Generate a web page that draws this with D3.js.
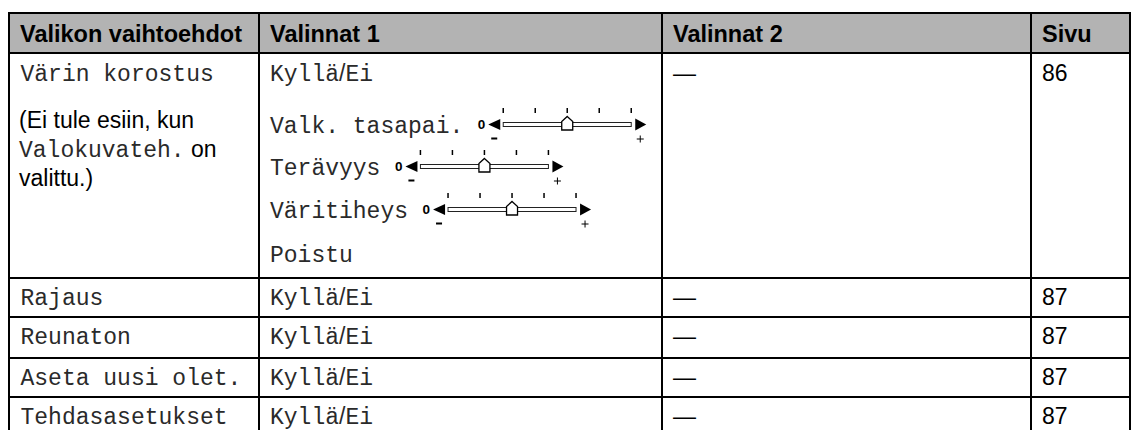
<!DOCTYPE html>
<html><head><meta charset="utf-8">
<script src="https://cdn.jsdelivr.net/npm/d3@7"></script>
<style>
body{margin:0;background:#fff}
.sans{font-family:"Liberation Sans",Arial,sans-serif}
.mono{font-family:"Liberation Mono","Courier New",monospace}
</style>
</head><body>
<svg id="c" width="1133" height="430"></svg>
<script>
// ---- data ----
const headers = ["Valikon vaihtoehdot", "Valinnat 1", "Valinnat 2", "Sivu"];
const menuOptions = ["Värin korostus", "Rajaus", "Reunaton", "Aseta uusi olet.", "Tehdasasetukset"];
const noteParts = [
  [["(Ei tule esiin, kun", "sans"]],
  [["Valokuvateh.", "mono"], [" on", "sans"]],
  [["valittu.)", "sans"]]
];
const choices1 = ["Kyllä/Ei", "Kyllä/Ei", "Kyllä/Ei", "Kyllä/Ei", "Kyllä/Ei"];
const firstRowItems = ["Kyllä/Ei", "Valk. tasapai.", "Terävyys", "Väritiheys", "Poistu"];
const sliderItems = ["Valk. tasapai.", "Terävyys", "Väritiheys"];
const sliderValues = [2, 2, 2];
const sliderSteps = [0, 1, 2, 3, 4];
const choices2 = ["—", "—", "—", "—", "—"];
const pages = ["86", "87", "87", "87", "87"];

// ---- layout ----
const svg = d3.select("#c");
const colEdges = [9, 259, 662, 1031, 1130];
const rowEdges = [13, 53, 278, 317, 358, 397, 437];
const FS = 23;
const pad = 11;
const monoCol = "#2a2a2a";

// header background
svg.append("rect").attr("x", colEdges[0]).attr("y", rowEdges[0])
  .attr("width", colEdges[4] - colEdges[0]).attr("height", rowEdges[1] - rowEdges[0])
  .attr("fill", "#b3b3b3");

// header text
svg.selectAll("text.hdr").data(headers).join("text")
  .attr("class", "hdr sans")
  .attr("x", (d, i) => colEdges[i] + pad)
  .attr("y", rowEdges[0] + 28.5)
  .attr("font-size", 23.5).attr("font-weight", "bold").attr("fill", "#000")
  .text(d => d);

// helper for "Kyllä/Ei" mixed text
function kylla(sel, x, y) {
  const t = sel.append("text").attr("x", x).attr("y", y).attr("font-size", FS).attr("fill", monoCol);
  t.append("tspan").attr("class", "mono").text("Kyllä");
  t.append("tspan").attr("class", "sans").text("/");
  t.append("tspan").attr("class", "mono").text("Ei");
  return t;
}

const baseOff = 27;
// column 1: menu options
menuOptions.forEach((m, i) => {
  svg.append("text").attr("class", "mono").attr("x", colEdges[0] + pad + 0.5)
    .attr("y", rowEdges[i + 1] + baseOff + (i === 0 ? 1 : 0))
    .attr("font-size", FS).attr("fill", monoCol).text(m);
});
// note lines in first row
const noteBase = [128, 157, 186];
noteParts.forEach((parts, li) => {
  const t = svg.append("text").attr("x", colEdges[0] + pad - 1).attr("y", noteBase[li])
    .attr("font-size", FS).attr("fill", "#000");
  parts.forEach(p => t.append("tspan").attr("class", p[1]).attr("fill", p[1] === "mono" ? monoCol : "#000").text(p[0]));
});

// column 2
const c2x = colEdges[1] + pad;
choices1.forEach((c, i) => { if (i > 0) kylla(svg, c2x, rowEdges[i + 1] + baseOff); });
const firstBase = [81, 133, 175, 218, 262];
firstRowItems.forEach((it, k) => {
  if (k === 0) { kylla(svg, c2x, firstBase[k]); return; }
  const t = svg.append("text").attr("class", "mono").attr("x", c2x).attr("y", firstBase[k])
    .attr("font-size", FS).attr("fill", monoCol).text(it);
  const si = sliderItems.indexOf(it);
  if (si >= 0) drawSlider(t, firstBase[k], sliderValues[si]);
});

function drawSlider(labelNode, baseline, value) {
  const end = c2x + labelNode.node().getComputedTextLength();
  const x0 = end + 40;
  const x = d3.scaleLinear().domain([sliderSteps[0], sliderSteps[sliderSteps.length - 1]]).range([x0, x0 + 128]);
  const ty = baseline - 8.5;
  const g = svg.append("g");
  g.append("text").attr("class", "sans").attr("x", end + 14.5).attr("y", baseline - 4)
    .attr("font-size", 13.5).attr("font-weight", "bold").text("0");
  g.append("path").attr("d", `M${end + 25},${ty} L${end + 37},${ty - 5.5} L${end + 37},${ty + 5.5} Z`).attr("fill", "#000");
  g.append("rect").attr("x", x0).attr("y", ty - 2).attr("width", 128).attr("height", 4)
    .attr("fill", "#fff").attr("stroke", "#222").attr("stroke-width", 1);
  g.selectAll("line.tick").data(sliderSteps).join("line")
    .attr("x1", d => x(d)).attr("x2", d => x(d))
    .attr("y1", ty - 16.5).attr("y2", ty - 11.5)
    .attr("stroke", "#000").attr("stroke-width", 1.5);
  const cx = x(value);
  g.append("path").attr("d", `M${cx},${ty - 8} L${cx + 5.5},${ty - 3} L${cx + 5.5},${ty + 5.5} L${cx - 5.5},${ty + 5.5} L${cx - 5.5},${ty - 3} Z`)
    .attr("fill", "#fff").attr("stroke", "#000").attr("stroke-width", 1.3);
  g.append("path").attr("d", `M${x0 + 132},${ty - 6} L${x0 + 143},${ty} L${x0 + 132},${ty + 6} Z`).attr("fill", "#000");
  g.append("rect").attr("x", end + 28).attr("y", baseline + 4.5).attr("width", 6).attr("height", 2).attr("fill", "#000");
  const px = x0 + 137, py = baseline + 6;
  g.append("path").attr("d", `M${px - 3.5},${py} H${px + 3.5} M${px},${py - 3.5} V${py + 3.5}`)
    .attr("stroke", "#000").attr("stroke-width", 1);
}

// column 3
choices2.forEach((c, i) => {
  svg.append("text").attr("class", "sans").attr("x", colEdges[2] + pad).attr("y", rowEdges[i + 1] + baseOff + (i === 0 ? 1 : 0))
    .attr("font-size", FS).attr("fill", "#000").text(c);
});
// column 4
pages.forEach((p, i) => {
  svg.append("text").attr("class", "sans").attr("x", colEdges[3] + pad).attr("y", rowEdges[i + 1] + baseOff + (i === 0 ? 1 : 0))
    .attr("font-size", FS).attr("fill", "#000").text(p);
});

// grid lines
svg.selectAll("line.h").data(rowEdges).join("line").attr("class", "h")
  .attr("x1", colEdges[0] - 1).attr("x2", colEdges[4] + 1)
  .attr("y1", d => d).attr("y2", d => d)
  .attr("stroke", "#000").attr("stroke-width", 2);
svg.selectAll("line.v").data(colEdges).join("line").attr("class", "v")
  .attr("x1", d => d).attr("x2", d => d)
  .attr("y1", rowEdges[0] - 1).attr("y2", rowEdges[rowEdges.length - 1])
  .attr("stroke", "#000").attr("stroke-width", 2);
</script>
</body></html>
